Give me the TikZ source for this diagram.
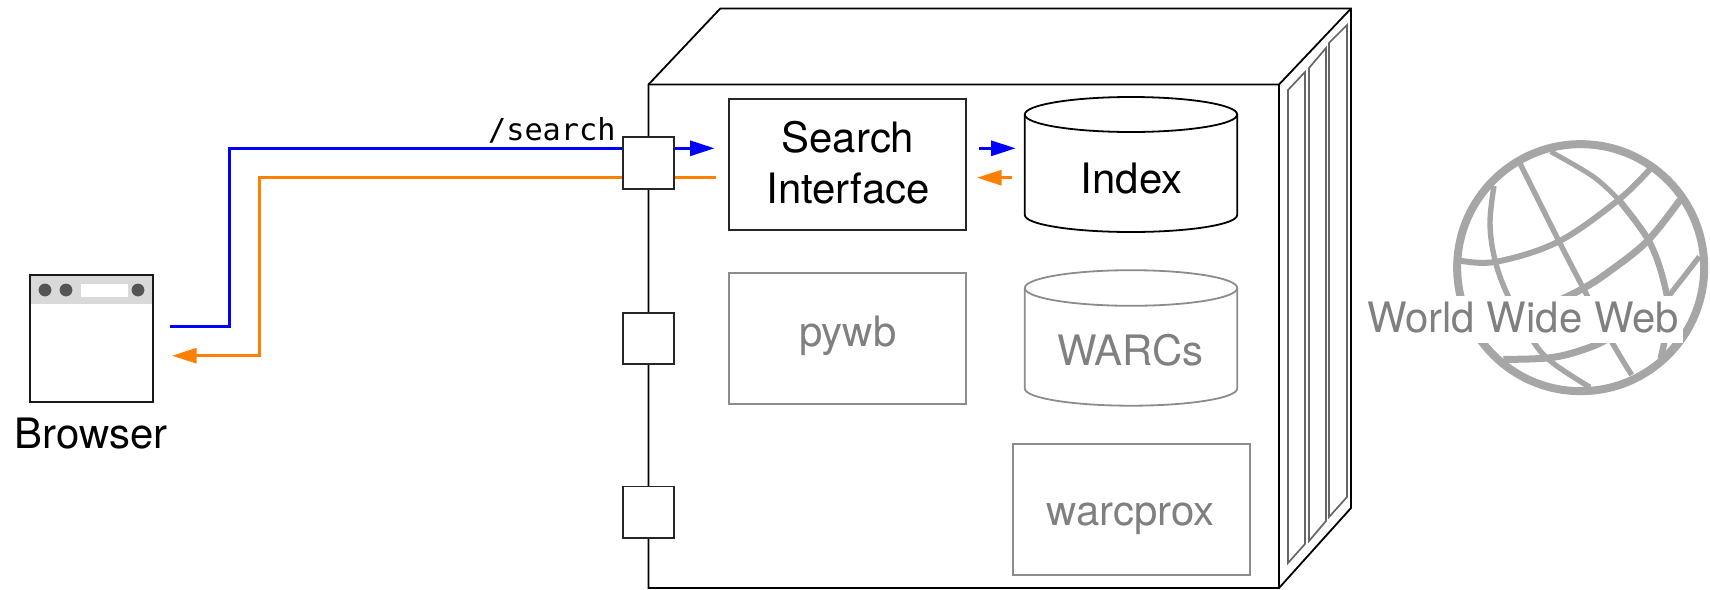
\documentclass[tikz,border=0pt]{standalone}
\usepackage{fontspec}
\setmainfont{TeX Gyre Heros}
\newfontfamily\monof{DejaVu Sans Mono}
\usetikzlibrary{arrows.meta}
\definecolor{bluearrow}{HTML}{0000FF}
\definecolor{orangearrow}{HTML}{FF8000}
\definecolor{fadedtext}{HTML}{808080}
\definecolor{fadedline}{HTML}{8C8C8C}
\definecolor{globegray}{HTML}{A6A6A6}
\tikzset{
  x=1pt,y=-1pt,
  solid line/.style={draw=black,line width=1.8pt,line join=miter},
  slat/.style={draw=black!60,line width=1.7pt,line join=miter},
  bigtext/.style={font=\fontsize{41.9}{50.6}\selectfont,inner sep=0pt,outer sep=0pt},
  boxmain/.style={solid line,draw=black!85,minimum width=237.5pt,minimum height=131.3pt,inner sep=0pt},
  boxfaded/.style={draw=fadedline,line width=1.8pt,minimum width=237.5pt,minimum height=131.3pt,inner sep=0pt},
  portbox/.style={draw=black!85,line width=1.8pt,fill=white,minimum width=51.3pt,minimum height=51.5pt,inner sep=0pt},
  flowblue/.style={draw=bluearrow,line width=3pt,line join=miter},
  floworange/.style={draw=orangearrow,line width=3pt,line join=miter},
  tipblue/.style={-{Triangle[length=24.6pt,width=15pt]}},
  globeline/.style={draw=globegray,line cap=butt,line join=round},
}
\begin{document}
\begin{tikzpicture}
\useasboundingbox (0,0) rectangle (1710,589);

% server cabinet
\draw[solid line] (648.5,84.5) -- (720.3,8.5) -- (1351,8.5) -- (1351,508) -- (1279,588) -- (648.5,588) -- cycle;
\draw[solid line] (648.5,84.5) -- (1279,84.5) -- (1351,8.5);
\draw[solid line] (1279,84.5) -- (1279,588);
\draw[slat] (1288,90) -- (1305,72) -- (1305,544) -- (1288,563) -- cycle;
\draw[slat] (1309,68) -- (1326,48) -- (1326,521) -- (1309,541) -- cycle;
\draw[slat] (1329,43) -- (1347,25) -- (1347,497) -- (1329,517) -- cycle;

% boxes
\node[boxmain] (search) at (847.5,164.6) {};
\node[bigtext,anchor=base,align=center] (searchtext) at (848,203.3) {Search\\Interface};
\node[boxfaded] (pywb) at (847.4,338.3) {};
\node[boxfaded] (warcprox) at (1131.4,509.6) {};
\node[bigtext,text=fadedtext,anchor=base] (pywbtext) at (847.8,346.7) {pywb};
\node[bigtext,text=fadedtext,anchor=base] (warcproxtext) at (1130.8,525) {warcprox};

% cylinders
\draw[solid line] (1131,114.5) ellipse [x radius=106.2pt,y radius=17.5pt];
\draw[solid line] (1024.8,114.5) -- (1024.8,215) arc[start angle=180,end angle=360,x radius=106.2pt,y radius=17pt] -- (1237.2,114.5);
\node[bigtext,anchor=base] (index) at (1131.7,193.3) {Index};
\draw[draw=fadedline,line width=1.8pt] (1131,288) ellipse [x radius=106.2pt,y radius=17.8pt];
\draw[draw=fadedline,line width=1.8pt] (1024.8,288) -- (1024.8,388.5) arc[start angle=180,end angle=360,x radius=106.2pt,y radius=17.2pt] -- (1237.2,288);
\node[bigtext,text=fadedtext,anchor=base] (warcs) at (1130.5,365.7) {WARCs};

% browser
\fill[white] (30,275) rectangle (153,402);
\fill[black!15] (30,275) rectangle (153,304);
\fill[black!67] (45,290) circle[radius=6.4pt];
\fill[black!67] (66,290) circle[radius=6.4pt];
\fill[black!67] (138,290) circle[radius=6.4pt];
\fill[white] (81,284) rectangle (128,297);
\node[draw=black!90,line width=1.6pt,minimum width=123pt,minimum height=127pt,inner sep=0pt] (browser) at (91.5,338.5) {};
\node[bigtext,anchor=base] (browserlabel) at (91,448) {Browser};

% connectors
\coordinate (bstart) at (170,326);
\coordinate (bcorner) at (229,326);
\coordinate (bup) at (229,148.3);
\coordinate (btip) at (714.6,148.3);
\coordinate (ostart) at (716,177.7);
\coordinate (ocorner) at (259,177.7);
\coordinate (odown) at (259,355.7);
\coordinate (otip) at (172,355.7);
\coordinate (b2start) at (979,148.3);
\coordinate (b2tip) at (1015.7,148.3);
\coordinate (o2start) at (1012,177.7);
\coordinate (o2tip) at (977,177.7);
\draw[flowblue,tipblue] (bstart) -- (bcorner) -- (bup) -- (btip);
\draw[floworange,tipblue] (ostart) -- (ocorner) -- (odown) -- (otip);
\draw[flowblue,tipblue] (b2start) -- (b2tip);
\draw[floworange,tipblue] (o2start) -- (o2tip);
\node[anchor=base west,inner sep=0pt,font=\monof\fontsize{30.2}{30}\selectfont] (route) at (488,140) {/search};

% ports
\node[portbox] (port1) at (648.5,163) {};
\node[portbox] (port2) at (648.5,338.5) {};
\node[portbox] (port3) at (648.5,512.2) {};

% globe
\begin{scope}[shift={(1340,100)},x=0.33333pt,y=-0.33333pt]
\draw[globeline,line width=8pt] (722,503) circle[radius=123.5pt];
\draw[globeline,line width=5.4pt] plot[smooth,tension=.6] coordinates {(540,190) (655,420) (730,565) (815,725) (875,825)};
\draw[globeline,line width=5.4pt] plot[smooth,tension=.6] coordinates {(462,258) (450,370) (465,480) (505,590) (580,725) (640,790) (750,862)};
\draw[globeline,line width=5pt] plot[smooth,tension=.6] coordinates {(632,155) (760,230) (835,298)};
\draw[globeline,line width=6.4pt] plot[smooth,tension=.6] coordinates {(835,298) (925,420) (970,540) (985,650) (962,775)};
\draw[globeline,line width=6pt] plot[smooth,tension=.6] coordinates {(362,482) (470,485) (655,425) (835,300) (932,205)};
\draw[globeline,line width=7pt] plot[smooth,tension=.6] coordinates {(1020,300) (920,425) (800,520) (730,565) (660,600)};
\draw[globeline,line width=7pt] plot[smooth,tension=.6] coordinates {(490,778) (640,772) (760,738) (830,700)};
\draw[globeline,line width=5.4pt] (1078,470) -- (985,590) -- (960,620);
\draw[globeline,line width=6pt] (1035,700) -- (970,775);
\end{scope}
\fill[white] (1365,296) rectangle (1683,342.7);
\node[bigtext,text=fadedtext,anchor=base] (wwwlabel) at (1523,332) {World Wide Web};
\end{tikzpicture}
\end{document}
